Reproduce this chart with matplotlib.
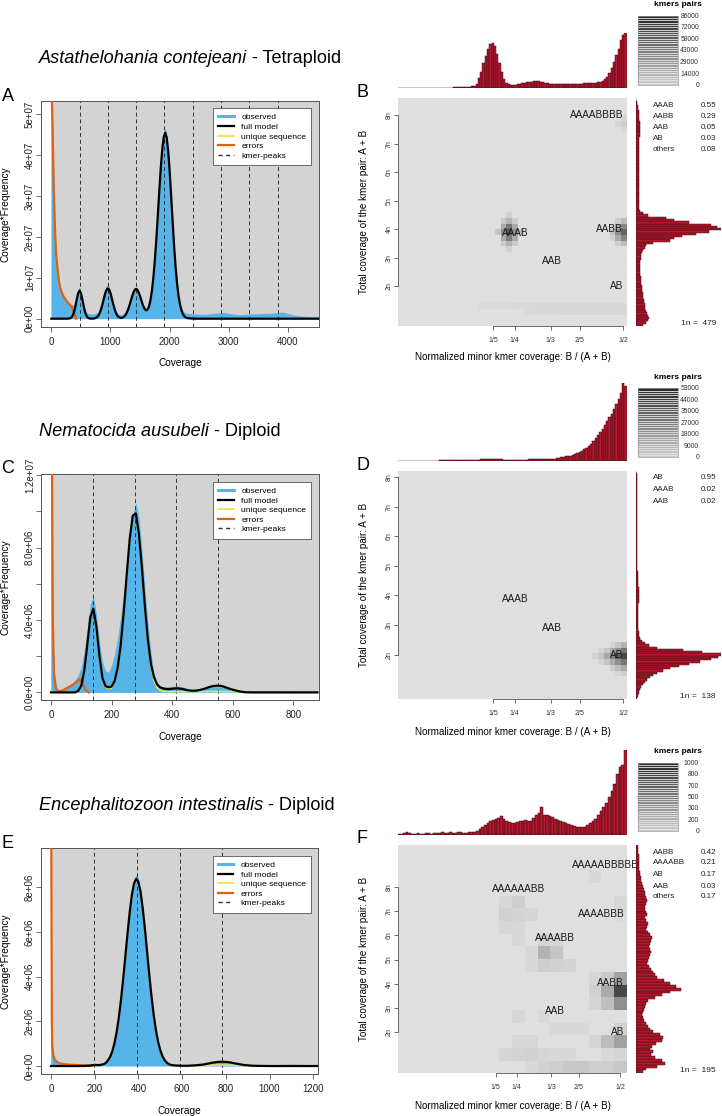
import numpy as np
import matplotlib
matplotlib.use('Agg')
import matplotlib.pyplot as plt
from matplotlib.colors import LinearSegmentedColormap
from matplotlib.lines import Line2D
from matplotlib.patches import Rectangle

plt.rcParams['font.family'] = ['Liberation Sans', 'DejaVu Sans']

W, H = 722, 1116

# ---------------- coverage panels (values in units of 1e6) ----------------
# A: Astathelohania contejeani
cov_a = list(range(0, 2301, 25)) + list(range(2400, 4501, 100)) + [4520]
obs_a = [60, 45, 28, 18, 13.5, 10, 8, 6.8, 6, 5.3,
         4.8, 4.3, 3.9, 3.5, 3.3, 3.3, 4.2, 5.6, 7.0, 7.9,
         6.8, 5.0, 3.3, 2.0, 1.5, 1.3, 1.2, 1.15, 1.1, 1.2,
         1.3, 1.5, 1.9, 2.6, 3.6, 5.0, 6.5, 7.8, 8.6, 8.0,
         6.8, 5.3, 3.8, 2.6, 1.7, 1.2, 1.0, 0.9, 0.95, 1.1,
         1.4, 2.0, 2.8, 3.9, 5.1, 6.3, 7.3, 7.8, 7.6, 6.8,
         5.7, 4.5, 3.5, 2.8, 2.5, 2.6, 3.2, 4.6, 6.9, 10.2,
         14.6, 19.8, 25.8, 31.9, 37.6, 42.4, 45.6, 46.7, 45.2, 41.6,
         36.5, 30.4, 24.2, 18.2, 13.2, 9.2, 6.2, 4.1, 2.8, 2.0,
         1.6, 1.4, 1.3,
         1.2, 1.1, 1.1, 1.2, 1.4, 1.5, 1.3, 1.1, 1.0, 1.1, 1.2,
         1.2, 1.3, 1.3, 1.5, 1.6, 1.3, 0.9, 0.7, 0.6, 0.55, 0.5,
         0.5]
model_a = [0, 0, 0, 0, 0, 0, 0, 0, 0, 0, 0, 0,
           0.04, 0.14, 0.45, 1.2, 2.5, 4.35, 6.05, 6.85, 6.3, 4.7,
           2.9, 1.4, 0.55, 0.17, 0.05, 0.01, 0.02, 0.06, 0.17, 0.40,
           0.85, 1.61, 2.72, 4.13, 5.6, 6.8, 7.38, 7.17, 6.23, 4.85,
           3.38, 2.1, 1.17, 0.58, 0.30, 0.20, 0.26, 0.45, 0.84, 1.46,
           2.33, 3.44, 4.68, 5.88, 6.8, 7.27, 7.16, 6.51, 5.51, 4.33,
           3.24, 2.43, 2.05, 2.19, 2.95, 4.45, 6.77, 10.03, 14.3, 19.4,
           25.2, 31.2, 36.8, 41.4, 44.4, 45.5, 44.3, 41.0, 36.1, 30.1,
           23.9, 17.9, 12.8, 8.7, 5.6, 3.44, 2.0, 1.1, 0.58, 0.29,
           0.14,
           0, 0, 0, 0, 0, 0, 0, 0, 0, 0, 0,
           0, 0, 0, 0, 0, 0, 0, 0, 0, 0, 0,
           0]
err_cov_a = [0, 20, 40, 60, 80, 100, 125, 150, 200, 250, 300, 350, 390, 420]
err_a = [60, 48, 33, 23, 16, 13, 9.5, 7.6, 5.6, 4.5, 3.6, 2.9, 1.3, 0]
peaks_a = [478, 956, 1434, 1912, 2390, 2868, 3346, 3824]

# C: Nematocida ausubeli
cov_c = [0, 3, 6] + list(range(10, 601, 10)) + list(range(620, 881, 20))
obs_c = [30, 14, 4,
         1.2, 0.2, 0.15, 0.18, 0.25, 0.35, 0.5, 0.7, 0.95, 1.4,
         2.3, 3.6, 4.9, 5.3, 4.3, 2.8, 1.7, 1.2, 1.1, 1.5,
         2.1, 3.0, 4.2, 5.5, 6.8, 8.3, 9.8, 10.5, 9.7, 7.9,
         5.8, 3.8, 2.2, 1.1, 0.55, 0.35, 0.3, 0.3, 0.32, 0.33,
         0.35, 0.35, 0.32, 0.28, 0.22, 0.18, 0.15, 0.15, 0.17, 0.2,
         0.24, 0.28, 0.3, 0.31, 0.31, 0.3, 0.27, 0.24, 0.2, 0.17,
         0.13, 0.11, 0.1, 0.1, 0.1, 0.1, 0.09, 0.08, 0.07, 0.07, 0.06, 0.06, 0.06, 0.05]
model_c = [0, 0, 0,
           0, 0, 0, 0, 0, 0, 0, 0, 0.09, 0.38,
           1.2, 2.65, 4.16, 4.63, 3.62, 2.01, 0.79, 0.35, 0.28, 0.32,
           0.62, 1.35, 2.59, 4.37, 6.49, 8.49, 9.76, 9.89, 8.81, 6.92,
           4.78, 2.91, 1.56, 0.85, 0.45, 0.28, 0.22, 0.19, 0.18, 0.2,
           0.22, 0.22, 0.2, 0.16, 0.12, 0.1, 0.09, 0.1, 0.13, 0.17,
           0.22, 0.28, 0.33, 0.36, 0.37, 0.36, 0.32, 0.26, 0.2, 0.15,
           0.06, 0.01, 0, 0, 0, 0, 0, 0, 0, 0, 0, 0, 0, 0]
uniq_c = [0, 0, 0,
          0, 0, 0, 0, 0, 0, 0, 0, 0.09, 0.38,
          1.2, 2.65, 4.16, 4.6, 3.6, 2.0, 0.78, 0.3, 0.2, 0.25,
          0.6, 1.33, 2.57, 4.35, 6.47, 8.47, 9.74, 9.87, 8.8, 6.9,
          4.75, 2.85, 1.45, 0.65, 0.28, 0.12, 0.06, 0.04, 0.04, 0.04,
          0.04, 0.04, 0.04, 0.04, 0.04, 0.04, 0.04, 0.04, 0.04, 0.04,
          0.05, 0.05, 0.05, 0.05, 0.05, 0.05, 0.05, 0.05, 0.04, 0.04,
          0.03, 0.02, 0.01, 0, 0, 0, 0, 0, 0, 0, 0, 0, 0, 0]
err_cov_c = [0, 3, 6, 10, 15, 20, 30, 40, 50, 60, 70, 80, 90, 97, 105, 110, 115, 125]
err_c = [30, 14, 4, 1.0, 0.3, 0.1, 0.07, 0.12, 0.22, 0.3, 0.41, 0.52, 0.65, 0.72, 0.5, 0.3, 0.12, 0.0]
peaks_c = [138, 276, 414, 552]

# E: Encephalitozoon intestinalis
cov_e = ([0, 2, 4, 6, 10, 15, 20, 27, 40, 65, 100, 150, 180, 200, 220, 240]
         + list(range(250, 551, 10)) + list(range(560, 1001, 20)) + [1050, 1100, 1150, 1200, 1223])
obs_e = [20, 8, 2.1, 1.0, 0.55, 0.35, 0.28, 0.22, 0.15, 0.1, 0.07, 0.06, 0.06, 0.07, 0.08, 0.12,
         0.18, 0.3, 0.48, 0.75, 1.15, 1.65, 2.3, 3.1, 4.05, 5.05,
         6.05, 7.0, 7.8, 8.35, 8.55, 8.4, 7.95, 7.2, 6.3, 5.3,
         4.25, 3.3, 2.45, 1.75, 1.2, 0.8, 0.5, 0.32, 0.2, 0.13, 0.1,
         0.08, 0.07, 0.06, 0.06, 0.07, 0.08, 0.1, 0.12, 0.14, 0.15, 0.16, 0.16,
         0.16, 0.14, 0.12, 0.1, 0.08, 0.07, 0.06, 0.06, 0.06, 0.06, 0.06,
         0.07, 0.08, 0.07, 0.06, 0.06]
model_e = [0, 0, 0, 0, 0, 0, 0, 0, 0, 0, 0, 0, 0.02, 0.05, 0.04, 0.08,
           0.13, 0.24, 0.40, 0.64, 1.0, 1.49, 2.14, 2.93, 3.86, 4.87,
           5.9, 6.85, 7.64, 8.16, 8.37, 8.23, 7.77, 7.02, 6.1, 5.08,
           4.05, 3.1, 2.28, 1.61, 1.09, 0.71, 0.44, 0.26, 0.15, 0.08, 0.05,
           0.03, 0.02, 0.01, 0.01, 0.02, 0.03, 0.05, 0.07, 0.11, 0.15, 0.18, 0.19,
           0.185, 0.16, 0.12, 0.085, 0.05, 0.03, 0.015, 0.008, 0.004, 0.002, 0,
           0, 0, 0, 0, 0]
uniq_e = [0, 0, 0, 0, 0, 0, 0, 0, 0, 0, 0, 0, 0.02, 0.05, 0.04, 0.08,
          0.13, 0.24, 0.40, 0.64, 1.0, 1.49, 2.14, 2.93, 3.86, 4.87,
          5.9, 6.85, 7.64, 8.16, 8.37, 8.23, 7.77, 7.02, 6.1, 5.08,
          4.05, 3.1, 2.28, 1.61, 1.09, 0.71, 0.44, 0.26, 0.15, 0.08, 0.05,
          0.02, 0.01, 0.005, 0.005, 0.008, 0.012, 0.018, 0.025, 0.033, 0.04, 0.046, 0.048,
          0.047, 0.042, 0.034, 0.025, 0.017, 0.01, 0.005, 0.002, 0, 0, 0,
          0, 0, 0, 0, 0]
err_cov_e = [0, 2, 4, 6, 10, 15, 20, 27, 40, 65, 100, 150, 200]
err_e = [20, 8, 2.0, 0.9, 0.5, 0.32, 0.25, 0.19, 0.12, 0.075, 0.05, 0.03, 0.015]
peaks_e = [196, 392, 588, 784]

# ---------------- smudgeplot panels ----------------
# B
top_b = [1, 1, 1, 1, 1, 1, 1, 1, 1, 1,
         1, 1, 1, 1, 1, 1, 1, 1, 1, 1,
         1, 1, 1, 1, 2, 2, 2, 2, 3, 3,
         3, 3, 4, 5, 8, 18, 30, 45, 58, 70,
         80, 82, 76, 62, 46, 30, 17, 10, 7, 6,
         6, 6, 7, 8, 9, 10, 11, 12, 12, 13,
         13, 13, 12, 11, 10, 9, 8, 8, 8, 7,
         7, 7, 7, 7, 7, 7, 8, 8, 8, 8,
         8, 9, 9, 9, 9, 10, 10, 11, 12, 14,
         17, 21, 27, 36, 47, 59, 71, 86, 95, 100]
right_b = [8, 12, 14, 15, 14, 13, 12, 11, 10, 10,
           9, 9, 8, 8, 8, 7, 7, 7, 6, 6,
           6, 6, 5, 5, 5, 5, 5, 5, 5, 6,
           6, 6, 7, 8, 10, 12, 20, 40, 45, 54,
           70, 86, 100, 95, 88, 62, 45, 35, 14, 8,
           5, 4, 4, 3, 3, 3, 3, 3, 3, 3,
           3, 3, 3, 3, 3, 3, 3, 3, 3, 3,
           3, 3, 3, 3, 3, 3, 4, 4, 4, 4,
           4, 4, 4, 5, 5, 5, 5, 5, 5, 5,
           4, 4, 4, 3, 3, 2, 2, 1, 1, 0]
cell_x_b = [0.243, 0.243, 0.243, 0.230, 0.256, 0.230, 0.256, 0.230, 0.256, 0.243, 0.243, 0.217, 0.269,
            0.243, 0.243, 0.230, 0.256, 0.230, 0.256,
            0.501, 0.501, 0.501, 0.488, 0.488, 0.488, 0.475, 0.501, 0.501, 0.488, 0.488, 0.475, 0.475,
            0.501, 0.488, 0.501, 0.501,
            0.172, 0.185, 0.198, 0.212, 0.225, 0.238, 0.251, 0.264, 0.277, 0.291, 0.304, 0.317, 0.330,
            0.343, 0.356, 0.370, 0.383, 0.396, 0.409, 0.422, 0.435, 0.449, 0.462, 0.475, 0.488, 0.501,
            0.277, 0.291, 0.304, 0.317, 0.330, 0.343, 0.356, 0.370, 0.383, 0.396, 0.409, 0.422, 0.435,
            0.449, 0.462, 0.475, 0.488, 0.501]
cell_y_b = [3.9, 4.1, 3.7, 3.9, 3.9, 4.1, 4.1, 3.7, 3.7, 4.3, 3.5, 3.9, 3.9,
            3.3, 4.5, 4.3, 4.3, 3.5, 3.5,
            3.9, 4.1, 3.7, 3.9, 4.1, 3.7, 3.9, 4.3, 3.5, 4.3, 3.5, 4.1, 3.7,
            7.7, 7.7, 7.9, 7.5,
            1.25, 1.25, 1.25, 1.25, 1.25, 1.25, 1.25, 1.25, 1.25, 1.25, 1.25, 1.25, 1.25,
            1.25, 1.25, 1.25, 1.25, 1.25, 1.25, 1.25, 1.25, 1.25, 1.25, 1.25, 1.25, 1.25,
            1.05, 1.05, 1.05, 1.05, 1.05, 1.05, 1.05, 1.05, 1.05, 1.05, 1.05, 1.05, 1.05,
            1.05, 1.05, 1.05, 1.05, 1.05]
cell_v_b = [0.75, 0.6, 0.55, 0.45, 0.45, 0.3, 0.3, 0.3, 0.3, 0.25, 0.25, 0.15, 0.15,
            0.08, 0.08, 0.12, 0.12, 0.12, 0.12,
            0.7, 0.5, 0.5, 0.45, 0.3, 0.3, 0.15, 0.2, 0.2, 0.1, 0.1, 0.08, 0.08,
            0.1, 0.06, 0.06, 0.05,
            0.03, 0.03, 0.03, 0.03, 0.03, 0.03, 0.03, 0.035, 0.035, 0.04, 0.04, 0.04, 0.04,
            0.04, 0.04, 0.04, 0.04, 0.04, 0.04, 0.04, 0.04, 0.04, 0.04, 0.04, 0.04, 0.04,
            0.035, 0.035, 0.035, 0.04, 0.04, 0.04, 0.045, 0.045, 0.045, 0.045, 0.045, 0.045, 0.045,
            0.045, 0.045, 0.045, 0.05, 0.05]
kmer_lab_b = ['AAAABBBB', 'AAAB', 'AABB', 'AAB', 'AB']
kmer_x_b = [0.439, 0.251, 0.468, 0.335, 0.486]
kmer_y_b = [8.0, 3.87, 4.0, 2.88, 2.01]
leg_names_b = ['AAAB', 'AABB', 'AAB', 'AB', 'others']
leg_vals_b = ['0.55', '0.29', '0.05', '0.03', '0.08']
cbar_b = ['86000', '72000', '58000', '43000', '29000', '14000', '0']
n1_b = 479

# D
top_d = [0, 0, 0, 0, 0, 0, 0, 0, 0, 0,
         0, 0, 0, 0, 0, 0, 0, 0, 1, 1,
         1, 1, 1, 1, 1, 1, 1, 1, 1, 1,
         1, 1, 1, 1, 1, 1, 2, 2, 2, 2,
         2, 2, 2, 2, 2, 2, 1, 1, 1, 1,
         1, 1, 1, 1, 1, 1, 1, 2, 2, 2,
         2, 2, 2, 2, 2, 3, 3, 3, 3, 4,
         4, 5, 5, 6, 6, 7, 8, 9, 10, 12,
         13, 15, 17, 19, 22, 26, 29, 33, 37, 41,
         46, 51, 56, 61, 67, 73, 80, 88, 100, 97]
right_d = [1, 2, 3, 4, 5, 6, 8, 10, 13, 16,
           20, 25, 32, 40, 50, 62, 75, 88, 97, 100,
           78, 55, 25, 15, 10, 7, 5, 4, 3, 3,
           2, 2, 2, 2, 2, 2, 2, 2, 2, 2,
           2, 2, 3, 3, 3, 3, 3, 3, 3, 2,
           2, 2, 2, 2, 2, 2, 1, 1, 1, 1,
           1, 1, 1, 1, 1, 1, 1, 1, 1, 1,
           1, 1, 1, 1, 1, 1, 1, 1, 1, 1,
           1, 1, 1, 1, 1, 1, 1, 1, 1, 1,
           1, 1, 1, 1, 1, 1, 1, 1, 1, 0]
cell_x_d = [0.501, 0.501, 0.501, 0.488, 0.488, 0.488, 0.475, 0.475, 0.475, 0.462, 0.462, 0.462,
            0.449, 0.436, 0.501, 0.488, 0.501, 0.488, 0.475, 0.501, 0.488, 0.475, 0.449, 0.449]
cell_y_d = [1.9, 2.1, 1.7, 1.9, 2.1, 1.7, 1.9, 2.1, 1.7, 1.9, 2.1, 1.7,
            1.9, 1.9, 2.3, 2.3, 1.5, 1.5, 1.5, 1.3, 1.3, 2.3, 1.7, 2.1]
cell_v_d = [0.85, 0.6, 0.6, 0.7, 0.45, 0.45, 0.5, 0.3, 0.3, 0.3, 0.15, 0.15,
            0.15, 0.07, 0.25, 0.15, 0.3, 0.2, 0.1, 0.1, 0.06, 0.06, 0.06, 0.06]
kmer_lab_d = ['AAAB', 'AAB', 'AB']
kmer_x_d = [0.251, 0.335, 0.486]
kmer_y_d = [3.88, 2.89, 2.0]
leg_names_d = ['AB', 'AAAB', 'AAB']
leg_vals_d = ['0.95', '0.02', '0.02']
cbar_d = ['53000', '44000', '35000', '27000', '18000', '9000', '0']
n1_d = 138

# F
top_f = [1, 1, 2, 3, 2, 1, 1, 2, 1, 1,
         2, 2, 1, 2, 2, 2, 3, 2, 2, 3,
         2, 2, 3, 3, 2, 2, 3, 4, 3, 5,
         7, 9, 12, 14, 16, 18, 19, 20, 22, 19,
         16, 15, 14, 14, 15, 16, 17, 18, 17, 17,
         20, 23, 26, 33, 24, 23, 22, 21, 19, 18,
         16, 15, 14, 13, 12, 11, 10, 10, 9, 10,
         12, 14, 16, 19, 23, 28, 33, 38, 45, 52,
         60, 72, 80, 82, 100]
right_f = [8, 12, 25, 34, 30, 22, 18, 20, 17, 19,
           24, 30, 32, 28, 20, 17, 14, 12, 9, 8,
           7, 8, 9, 11, 12, 14, 22, 30, 40, 53,
           47, 40, 33, 25, 22, 20, 18, 15, 13, 14,
           15, 16, 18, 17, 15, 16, 18, 19, 16, 14,
           12, 13, 14, 12, 11, 13, 12, 10, 11, 12,
           13, 12, 11, 10, 9, 8, 7, 6, 6, 5,
           5, 4, 4, 4, 3, 3, 3, 2, 2, 2]
cell_x_f = [0.500, 0.500, 0.469, 0.500, 0.469, 0.469, 0.438, 0.438, 0.438,
            0.500, 0.469, 0.500, 0.438,
            0.316, 0.347, 0.316, 0.347, 0.285, 0.377, 0.285, 0.316, 0.347, 0.255,
            0.224, 0.255, 0.224, 0.255, 0.285, 0.255, 0.224,
            0.438, 0.500, 0.500,
            0.255, 0.316, 0.347, 0.377, 0.408,
            0.255, 0.285, 0.224, 0.255, 0.285, 0.316, 0.347, 0.377, 0.469, 0.500,
            0.316, 0.347, 0.377, 0.408, 0.438, 0.469, 0.500, 0.285]
cell_y_f = [3.71, 4.23, 3.71, 3.19, 3.19, 4.23, 4.23, 3.71, 3.19,
            1.62, 1.62, 2.14, 1.62,
            5.28, 5.28, 4.76, 4.76, 4.76, 4.76, 5.28, 5.80, 5.80, 5.80,
            6.85, 6.85, 7.37, 7.37, 6.85, 6.33, 6.33,
            8.42, 7.37, 6.85,
            2.66, 2.66, 2.14, 2.14, 2.14,
            1.62, 1.62, 1.10, 1.10, 1.10, 1.10, 1.10, 1.10, 1.10, 1.10,
            0.57, 0.57, 0.57, 0.57, 0.57, 0.57, 0.57, 0.57]
cell_v_f = [0.85, 0.35, 0.3, 0.45, 0.18, 0.12, 0.06, 0.08, 0.06,
            0.35, 0.2, 0.08, 0.06,
            0.25, 0.15, 0.1, 0.08, 0.05, 0.07, 0.05, 0.06, 0.06, 0.04,
            0.08, 0.07, 0.05, 0.1, 0.06, 0.05, 0.05,
            0.05, 0.05, 0.03,
            0.05, 0.04, 0.04, 0.04, 0.04,
            0.05, 0.05, 0.06, 0.07, 0.08, 0.06, 0.05, 0.04, 0.04, 0.06,
            0.08, 0.1, 0.13, 0.14, 0.1, 0.1, 0.14, 0.05]
kmer_lab_f = ['AAAAABBBBB', 'AAAAAABB', 'AAAABBB', 'AAAABB', 'AABB', 'AAB', 'AB']
kmer_x_f = [0.463, 0.255, 0.453, 0.343, 0.475, 0.343, 0.493]
kmer_y_f = [8.89, 7.89, 6.87, 5.89, 4.04, 2.88, 2.02]
leg_names_f = ['AABB', 'AAAABB', 'AB', 'AAB', 'others']
leg_vals_f = ['0.42', '0.21', '0.17', '0.03', '0.17']
cbar_f = ['1000', '800', '700', '500', '300', '200', '0']
n1_f = 195

frac_ticks = [1 / 5, 1 / 4, 1 / 3, 2 / 5, 1 / 2]
frac_labels = ['1/5', '1/4', '1/3', '2/5', '1/2']

BLUE = '#56B4E9'
ORANGE = '#E0620D'
YELLOW = '#F0E442'
RED = '#B5172F'
AXC = '#555555'

smudge_cmap = LinearSegmentedColormap.from_list('smudge', ['#DFDFDF', '#2E2E2E'])
cbar_cmap = LinearSegmentedColormap.from_list('cb', ['#CDCDCD', '#2A2A2A'])

fig = plt.figure(figsize=(W / 100, H / 100), dpi=100)


def px_axes(x0, y0, x1, y1):
    return fig.add_axes([x0 / W, 1 - y1 / H, (x1 - x0) / W, (y1 - y0) / H])


def ftext(px, py, s, **kw):
    return fig.text(px / W, 1 - py / H, s, **kw)


def title(py, species, rest):
    t = ftext(39, py, species, fontsize=13.1, style='italic', va='baseline', ha='left')
    r = fig.canvas.get_renderer()
    bb = t.get_window_extent(r)
    fig.text(bb.x1 / fig.bbox.width, 1 - py / H, rest, fontsize=13.1, va='baseline', ha='left')


def coverage_panel(box, cov, obs, model, uniq, err_cov, err, peaks, xlim, ylim,
                   xticks, yticks, ylabels):
    ax = px_axes(*box)
    ax.add_patch(Rectangle((0, 0), xlim[1], ylim[1], color='#D3D3D3', lw=0, zorder=0))
    ax.fill_between(cov, 0, obs, color=BLUE, lw=0, zorder=1)
    for p in peaks:
        ax.axvline(p, color='#333333', lw=0.7, ls=(0, (4, 3)), zorder=2)
    if uniq is not None:
        ax.plot(cov, uniq, color=YELLOW, lw=1.2, zorder=3)
    ax.plot(err_cov, err, color=ORANGE, lw=1.6, zorder=4)
    ax.plot(cov, model, color='black', lw=1.6, zorder=5)
    ax.set_xlim(xlim)
    ax.set_ylim(ylim)
    ax.set_xticks(xticks)
    ax.set_xticklabels([str(v) for v in xticks])
    ax.set_yticks(yticks)
    ax.set_yticklabels(ylabels, rotation=90, va='center')
    ax.tick_params(length=3.6, width=0.6, color=AXC, labelsize=7, labelcolor='#222222')
    ax.tick_params(axis='x', pad=3.5)
    ax.tick_params(axis='y', pad=0.8)
    for s in ax.spines.values():
        s.set_color(AXC)
        s.set_linewidth(0.7)
    handles = [Line2D([], [], color=BLUE, lw=2.2),
               Line2D([], [], color='black', lw=1.6),
               Line2D([], [], color=YELLOW, lw=1.3),
               Line2D([], [], color=ORANGE, lw=1.6),
               Line2D([], [], color='#333333', lw=1.0, ls=(0, (3, 2.5)))]
    leg = ax.legend(handles, ['observed', 'full model', 'unique sequence', 'errors', 'kmer-peaks'],
                    loc='upper right', bbox_to_anchor=(1, 1), borderaxespad=0.9,
                    fontsize=6.1, fancybox=False, framealpha=1, edgecolor=AXC,
                    handlelength=1.8, handletextpad=0.9, labelspacing=0.2, borderpad=0.6)
    leg.get_frame().set_linewidth(0.6)
    leg.set_zorder(10)
    x0, y0, x1, y1 = box
    ftext((x0 + x1) / 2, y1 + 36.7, 'Coverage', fontsize=7.3, ha='center', va='center')
    ftext(5.7, (y0 + y1) / 2, 'Coverage*Frequency', fontsize=7.3, ha='center', va='center',
          rotation=90)
    return ax


def smudge_panel(hm_box, top_py, xlim, ylim, nx, ny, cx, cy, cv, top_counts, right_counts,
                 cbar_box, cbar_labels, leg_names, leg_vals, leg_py, n1, n1_py,
                 klab, kx, ky, xlab_py):
    x0, y0, x1, y1 = hm_box
    ax = px_axes(x0, y0, x1, y1)
    xe = np.linspace(xlim[0], xlim[1], nx + 1)
    ye = np.linspace(ylim[0], ylim[1], ny + 1)
    grid = np.zeros((ny, nx))
    for x, y, v in zip(cx, cy, cv):
        grid[np.searchsorted(ye, y) - 1, np.searchsorted(xe, x) - 1] = v
    ax.pcolormesh(xe, ye, grid, cmap=smudge_cmap, vmin=0, vmax=1, shading='flat')
    ax.set_xlim(xlim)
    ax.set_ylim(ylim)
    for s in ['top', 'right']:
        ax.spines[s].set_visible(False)
    ax.spines['left'].set_bounds(2, 8)
    ax.spines['bottom'].set_bounds(0.2, 0.5)
    for s in ['left', 'bottom']:
        ax.spines[s].set_color(AXC)
        ax.spines[s].set_linewidth(0.6)
    ax.set_xticks(frac_ticks)
    ax.set_xticklabels(frac_labels)
    ax.set_yticks(range(2, 9))
    ax.set_yticklabels(['%dn' % k for k in range(2, 9)], rotation=90, va='center')
    ax.tick_params(length=3, width=0.6, color=AXC, labelsize=5, labelcolor='#333333')
    ax.tick_params(axis='x', pad=5.0)
    ax.tick_params(axis='y', pad=0.8)
    for lab, x, y in zip(klab, kx, ky):
        ax.text(x, y, lab, fontsize=7.2, ha='center', va='center', color='#1A1A1A',
                clip_on=False)

    # top histogram
    axt = px_axes(x0, top_py, x1, y0 - 10)
    axt.bar(np.arange(len(top_counts)), top_counts, width=1, align='edge',
            color=RED, edgecolor='#3B0D12', linewidth=0.35)
    axt.set_xlim(0, len(top_counts))
    axt.set_ylim(0, 100)
    axt.axis('off')

    # right histogram
    axr = px_axes(636, y0, 721, y1)
    axr.barh(np.arange(len(right_counts)), right_counts, height=1, align='edge',
             color=RED, edgecolor='#3B0D12', linewidth=0.35)
    axr.set_ylim(0, len(right_counts))
    axr.set_xlim(0, 100)
    axr.axis('off')

    # colour key: banded grey ramp
    cb0, cb1, cb2, cb3 = cbar_box
    axc = px_axes(cb0, cb1, cb2, cb3)
    n = 30
    for k in range(n):
        axc.axhspan(k, k + 1, color=cbar_cmap(k / (n - 1)), lw=0)
    axc.hlines(np.arange(1, n), 0, 1, color='#E6E6E6', lw=0.6)
    axc.set_xlim(0, 1)
    axc.set_ylim(0, n)
    axc.set_xticks([])
    axc.set_yticks([])
    for s in axc.spines.values():
        s.set_color('#999999')
        s.set_linewidth(0.5)
    ftext(678.3, cb1 - 11, 'kmers pairs', fontsize=6, fontweight='bold', ha='center',
          va='center')
    for k, lab in enumerate(cbar_labels):
        py = cb1 + 0.6 + k * (cb3 - cb1) / (len(cbar_labels) - 1)
        ftext(699, py, lab, fontsize=4.9, ha='right', va='center', color='#333333')

    # fractions list
    for name, val, py in zip(leg_names, leg_vals, leg_py):
        ftext(652.7, py, name, fontsize=5.8, ha='left', va='center', color='#222222')
        ftext(716, py, val, fontsize=5.8, ha='right', va='center', color='#222222')
    ftext(716, n1_py, '1n =  %d' % n1, fontsize=6, ha='right', va='center', color='#222222')

    ftext(364, (y0 + y1) / 2, 'Total coverage of the kmer pair: A + B', fontsize=7.1,
          rotation=90, ha='center', va='center')
    ftext(512.5, xlab_py, 'Normalized minor kmer coverage: B / (A + B)', fontsize=7.1,
          ha='center', va='center')
    return ax


# ---- titles ----
title(63.3, 'Astathelohania contejeani', ' - Tetraploid')
title(436, 'Nematocida ausubeli', ' - Diploid')
title(810, 'Encephalitozoon intestinalis', ' - Diploid')

# ---- left column ----
coverage_panel((41, 100.7, 319, 326.7), cov_a, obs_a, model_a, None, err_cov_a, err_a, peaks_a,
               (-174, 4524), (-1.96, 53.3), [0, 1000, 2000, 3000, 4000],
               [0, 10, 20, 30, 40, 50], ['0e+00', '1e+07', '2e+07', '3e+07', '4e+07', '5e+07'])
coverage_panel((41, 474.3, 319, 700), cov_c, obs_c, model_c, uniq_c, err_cov_c, err_c, peaks_c,
               (-33, 885), (-0.42, 12.05), [0, 200, 400, 600, 800],
               [0, 2, 4, 6, 8, 10, 12], ['0.0e+00', '', '4.0e+06', '', '8.0e+06', '', '1.2e+07'])
coverage_panel((40.7, 848.3, 318.3, 1074.3), cov_e, obs_e, model_e, uniq_e, err_cov_e, err_e,
               peaks_e, (-47, 1223), (-0.37, 9.73), [0, 200, 400, 600, 800, 1000, 1200],
               [0, 2, 4, 6, 8], ['0e+00', '2e+06', '4e+06', '6e+06', '8e+06'])

# ---- right column ----
smudge_panel((397.7, 98.3, 626.7, 326), 32.7, (-0.019, 0.508), (0.6, 8.59), 40, 40,
             cell_x_b, cell_y_b, cell_v_b, top_b, right_b, (638.3, 15.7, 677.7, 85), cbar_b,
             leg_names_b, leg_vals_b, [105.3, 116.3, 127.7, 138.7, 149.7], n1_b, 323.3,
             kmer_lab_b, kmer_x_b, kmer_y_b, 357)
smudge_panel((397.7, 471, 626.7, 699), 383.3, (-0.019, 0.508), (0.5, 8.21), 40, 40,
             cell_x_d, cell_y_d, cell_v_d, top_d, right_d, (638, 388.3, 678, 457.3), cbar_d,
             leg_names_d, leg_vals_d, [477.3, 489.3, 501.3], n1_d, 697,
             kmer_lab_d, kmer_x_d, kmer_y_d, 732)
smudge_panel((397.7, 845, 626.7, 1073.3), 750, (-0.036, 0.515), (0.31, 9.72), 18, 18,
             cell_x_f, cell_y_f, cell_v_f, top_f, right_f, (638, 762.7, 678, 831), cbar_f,
             leg_names_f, leg_vals_f, [852, 863, 874.7, 886, 897], n1_f, 1070.7,
             kmer_lab_f, kmer_x_f, kmer_y_f, 1106)

# ---- panel letters ----
for letter, px, py in [('A', 1.5, 100.7), ('C', 1.5, 473.3), ('E', 1.5, 848.3),
                       ('B', 357, 96.7), ('D', 357, 470), ('F', 357, 843)]:
    ftext(px, py, letter, fontsize=13, ha='left', va='baseline')

fig.savefig('out.png', dpi=100)
